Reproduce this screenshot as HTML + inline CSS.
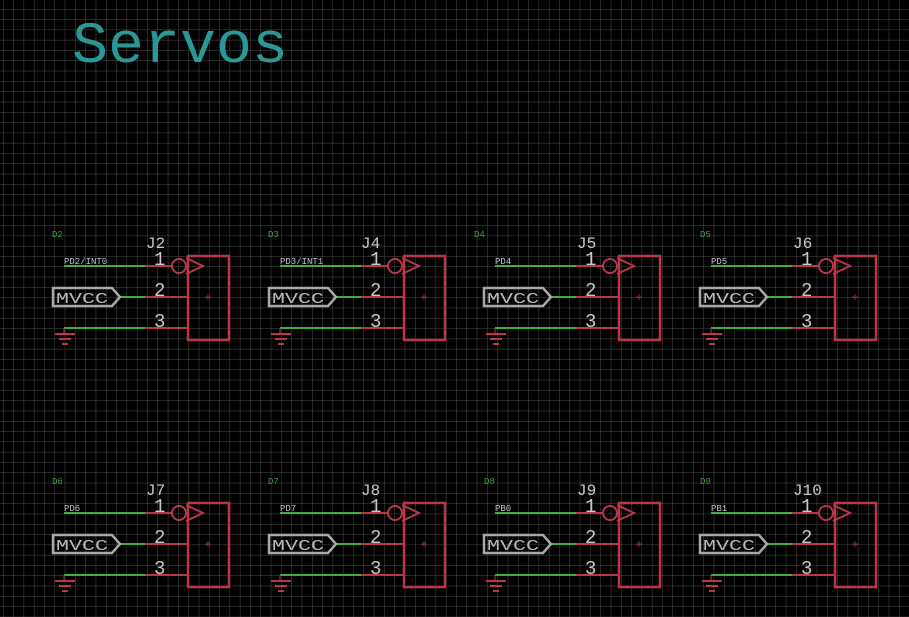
<!DOCTYPE html>
<html><head><style>
html,body{margin:0;padding:0;background:#000;}
svg{display:block;}
text{font-family:"Liberation Mono",monospace;}
</style></head><body>
<svg width="909" height="617" viewBox="0 0 909 617" xmlns="http://www.w3.org/2000/svg">
<defs>
<pattern id="g" x="3" y="9" width="10.3" height="10.3" patternUnits="userSpaceOnUse">
<path d="M0 0H10.3M0 0V10.3" stroke="#4c4c4c" stroke-width="1" fill="none"/>
</pattern>
<g id="blk">
  <line x1="64" y1="266" x2="145" y2="266" stroke="#3fae3f" stroke-width="2"/>
  <line x1="145" y1="266" x2="172" y2="266" stroke="#b83848" stroke-width="2"/>
  <line x1="120" y1="297" x2="145" y2="297" stroke="#3fae3f" stroke-width="2"/>
  <line x1="145" y1="297" x2="188" y2="297" stroke="#b83848" stroke-width="2"/>
  <line x1="64" y1="328" x2="145" y2="328" stroke="#3fae3f" stroke-width="2"/>
  <line x1="145" y1="328" x2="188" y2="328" stroke="#b83848" stroke-width="2"/>
  <circle cx="179" cy="266" r="7" fill="none" stroke="#b83848" stroke-width="2"/>
  <path d="M186 258 L203 266 L186 274" fill="none" stroke="#b83848" stroke-width="2"/>
  <rect x="188" y="256" width="41" height="84" fill="none" stroke="#b83848" stroke-width="2.5"/>
  <path d="M205 297H211M208 294V300" stroke="#8a2a36" stroke-width="1"/>
  <path d="M53 288H112L120 297L112 306H53Z" fill="none" stroke="#a8a8a8" stroke-width="2.5"/>
  <text x="56" y="303" font-size="15" fill="#b8b8b8" textLength="52" lengthAdjust="spacingAndGlyphs">MVCC</text>
  <path d="M55 334H75M59 339H71M62 344H68" stroke="#b83848" stroke-width="2"/>
  <line x1="64" y1="328" x2="64" y2="334" stroke="#b83848" stroke-width="1"/>
  <text x="154" y="265" font-size="19" fill="#c8c8c8">1</text>
  <text x="154" y="296" font-size="19" fill="#c8c8c8">2</text>
  <text x="154" y="327" font-size="19" fill="#c8c8c8">3</text>
</g>
</defs>
<rect width="909" height="617" fill="#000"/>
<rect width="909" height="617" fill="url(#g)"/>
<text x="72" y="62" font-size="58" fill="#2a9896" textLength="216" lengthAdjust="spacingAndGlyphs">Servos</text>

<g font-size="9" fill="#39a039">
<text x="52" y="237">D2</text><text x="268" y="237">D3</text><text x="474" y="237">D4</text><text x="700" y="237">D5</text>
<text x="52" y="484">D6</text><text x="268" y="484">D7</text><text x="484" y="484">D8</text><text x="700" y="484">D9</text>
</g>

<use href="#blk"/>
<use href="#blk" x="216"/>
<use href="#blk" x="431"/>
<use href="#blk" x="647"/>
<use href="#blk" y="247"/>
<use href="#blk" x="216" y="247"/>
<use href="#blk" x="431" y="247"/>
<use href="#blk" x="647" y="247"/>

<g font-size="16" fill="#c8c8c8">
<text x="146" y="248">J2</text><text x="361" y="248">J4</text><text x="577" y="248">J5</text><text x="793" y="248">J6</text>
<text x="146" y="495">J7</text><text x="361" y="495">J8</text><text x="577" y="495">J9</text><text x="793" y="495">J10</text>
</g>
<g font-size="9" fill="#c0c0c0">
<text x="64" y="267" dy="-3">PD2/INT0</text><text x="280" y="264">PD3/INT1</text><text x="495" y="264">PD4</text><text x="711" y="264">PD5</text>
<text x="64" y="511">PD6</text><text x="280" y="511">PD7</text><text x="495" y="511">PB0</text><text x="711" y="511">PB1</text>
</g>
</svg>
</body></html>
